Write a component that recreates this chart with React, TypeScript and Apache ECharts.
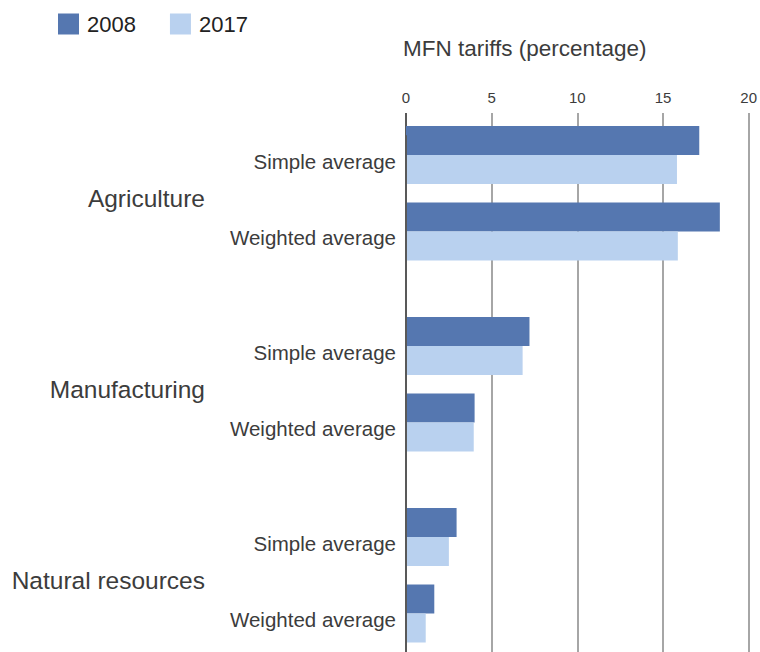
import React, { useEffect, useRef } from "react";
import * as echarts from "echarts";

const groups = ["Agriculture", "Manufacturing", "Natural resources"];
const measures = ["Simple average", "Weighted average"];
const seriesNames = ["2008", "2017"];
// order: Agriculture S, W, Manufacturing S, W, Natural resources S, W
const values2008 = [17.1, 18.3, 7.2, 4.0, 2.95, 1.65];
const values2017 = [15.8, 15.85, 6.8, 3.95, 2.5, 1.15];
const xTicks = [0, 5, 10, 15, 20];

const FONT = "'Liberation Sans', Arial, sans-serif";
const TEXT = "#3c3c3c";

export default function App() {
  const ref = useRef<HTMLDivElement>(null);
  useEffect(() => {
    if (!ref.current) return;
    const chart = echarts.init(ref.current, null, { renderer: "svg" });

    // build slot layout: each group takes 5 slots; S at 0, group label at 1, W at 2
    const slotCount = 14;
    const subLabels: string[] = new Array(slotCount).fill("");
    const groupLabels: string[] = new Array(slotCount).fill("");
    const d2008: (number | null)[] = new Array(slotCount).fill(null);
    const d2017: (number | null)[] = new Array(slotCount).fill(null);
    groups.forEach((g, gi) => {
      groupLabels[gi * 5 + 1] = g;
      measures.forEach((m, mi) => {
        const slot = gi * 5 + mi * 2;
        subLabels[slot] = m;
        d2008[slot] = values2008[gi * 2 + mi];
        d2017[slot] = values2017[gi * 2 + mi];
      });
    });

    const gridColors = xTicks.map((t) => (t === 0 ? "#595959" : "#a6a6a6"));

    chart.setOption({
      animation: false,
      textStyle: { fontFamily: FONT },
      title: {
        text: "MFN tariffs (percentage)",
        left: 403,
        top: 37,
        padding: 0,
        textStyle: { fontSize: 22.5, fontWeight: "normal", color: TEXT, fontFamily: FONT },
      },
      legend: {
        data: seriesNames,
        left: 58,
        top: 13,
        padding: 0,
        itemWidth: 21,
        itemHeight: 21,
        itemGap: 34,
        icon: "rect",
        textStyle: { fontSize: 22, color: "#222", fontFamily: FONT, padding: [0, 0, 0, 3] },
      },
      grid: [
        { left: 406, right: 11, top: 136, height: 14 * 38.2 },
        { left: 406, right: 11, top: 113, bottom: 0 },
      ],
      xAxis: [
        { gridIndex: 0, type: "value", min: 0, max: 20, show: false },
        {
          gridIndex: 1,
          type: "value",
          position: "top",
          min: 0,
          max: 20,
          interval: 5,
          axisLine: { show: false },
          axisTick: { show: false },
          axisLabel: { fontSize: 15, color: TEXT, margin: 8, fontFamily: FONT },
          splitLine: { show: true, lineStyle: { color: gridColors, width: 2 } },
        },
      ],
      yAxis: [
        {
          gridIndex: 0,
          type: "category",
          inverse: true,
          data: subLabels,
          z: 5,
          axisLine: { show: true, lineStyle: { color: "#595959", width: 2 } },
          axisTick: { show: false },
          axisLabel: {
            interval: 0,
            fontSize: 20.5,
            color: TEXT,
            margin: 10,
            fontFamily: FONT,
            verticalAlign: "top",
            lineHeight: 12,
          },
        },
        {
          gridIndex: 0,
          type: "category",
          inverse: true,
          position: "left",
          data: groupLabels,
          axisLine: { show: false },
          axisTick: { show: false },
          axisLabel: {
            interval: 0,
            fontSize: 24.5,
            color: TEXT,
            margin: 201,
            fontFamily: FONT,
            verticalAlign: "top",
            lineHeight: 11,
          },
        },
        { gridIndex: 1, type: "value", show: false, min: 0, max: 1 },
      ],
      series: [
        {
          name: seriesNames[0],
          type: "bar",
          xAxisIndex: 0,
          yAxisIndex: 0,
          data: d2008,
          barWidth: 29,
          barGap: "0%",
          clip: false,
          itemStyle: { color: "#5577b0" },
        },
        {
          name: seriesNames[1],
          type: "bar",
          xAxisIndex: 0,
          yAxisIndex: 0,
          data: d2017,
          barWidth: 29,
          barGap: "0%",
          clip: false,
          itemStyle: { color: "#b9d1ef" },
        },
      ],
    });
    return () => chart.dispose();
  }, []);
  return (
    <div style={{ position: "absolute", left: 0, top: 0, width: 760, height: 652, overflow: "hidden", background: "#fff" }}>
      <div ref={ref} style={{ width: 760, height: 700 }} />
    </div>
  );
}
